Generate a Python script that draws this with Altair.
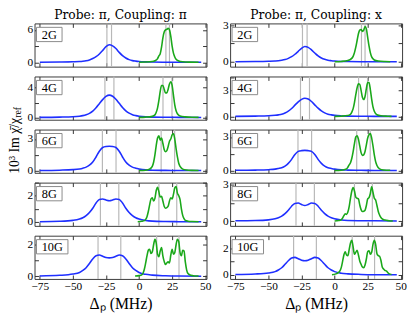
import altair as alt
import pandas as pd

SERIF = "Liberation Serif"
TSERIF = "DejaVu Serif"
BLUE = "#1f2fff"
GREEN = "#1aa81a"
GRAY = "#b8b8b8"

FIELDS = ["2G", "4G", "6G", "8G", "10G"]
COL_TITLES = ["Probe: π, Coupling: π", "Probe: π, Coupling: x"]
X_TICKS = [-75, -50, -25, 0, 25, 50]
X_DOMAIN = [-79, 51]

# marker (gray) line positions, MHz
MARKERS = [
    [-24.3, -20.8, 20.3, 23.0],
    [-25.8, -19.0, 18.1, 24.9],
    [-27.7, -17.4, 16.7, 26.9],
    [-29.2, -15.3, 15.0, 28.5],
    [-31.0, -13.8, 13.3, 30.2],
]

BLUE_X = [-75, -60, -50, -45, -42.5, -40, -37.5, -35, -32.5, -30, -27.5, -25, -22.5,
          -20, -17.5, -15, -12.5, -10, -7.5, -5, -2.5, 0, 5, 10, 20, 30, 47]

BLUE_LEFT = [
    [0.02, 0.05, 0.1, 0.15, 0.21, 0.3, 0.45, 0.7, 1.05, 1.55, 2.2, 2.9, 3.25,
     3.05, 2.55, 1.85, 1.25, 0.8, 0.5, 0.32, 0.22, 0.15, 0.08, 0.05, 0.03, 0.02, 0.01],
    [0.02, 0.05, 0.1, 0.18, 0.25, 0.36, 0.55, 0.85, 1.3, 1.85, 2.4, 2.82, 3.0,
     2.85, 2.45, 1.9, 1.35, 0.9, 0.58, 0.37, 0.25, 0.17, 0.08, 0.05, 0.03, 0.02, 0.01],
    [0.02, 0.05, 0.1, 0.17, 0.24, 0.34, 0.52, 0.82, 1.3, 1.85, 2.2, 2.3, 2.32,
     2.3, 2.2, 1.85, 1.3, 0.82, 0.52, 0.34, 0.24, 0.17, 0.08, 0.05, 0.03, 0.02, 0.01],
    [0.02, 0.05, 0.12, 0.22, 0.32, 0.48, 0.72, 1.05, 1.45, 1.72, 1.75, 1.67, 1.62,
     1.67, 1.75, 1.72, 1.45, 1.05, 0.72, 0.48, 0.32, 0.22, 0.11, 0.06, 0.03, 0.02, 0.01],
    [0.03, 0.07, 0.15, 0.25, 0.38, 0.55, 0.82, 1.1, 1.3, 1.35, 1.27, 1.19, 1.17,
     1.19, 1.27, 1.35, 1.3, 1.1, 0.82, 0.55, 0.38, 0.25, 0.13, 0.08, 0.04, 0.02, 0.01],
]

BLUE_RIGHT = [
    [0.01, 0.02, 0.04, 0.06, 0.08, 0.12, 0.18, 0.28, 0.42, 0.62, 0.86, 1.1, 1.25,
     1.18, 0.98, 0.72, 0.48, 0.31, 0.2, 0.13, 0.09, 0.06, 0.03, 0.02, 0.01, 0.01, 0.0],
    [0.01, 0.035, 0.07, 0.13, 0.18, 0.25, 0.39, 0.6, 0.91, 1.3, 1.68, 1.97, 2.1,
     2.0, 1.72, 1.33, 0.95, 0.63, 0.41, 0.26, 0.18, 0.12, 0.06, 0.035, 0.02, 0.01, 0.01],
    [0.02, 0.04, 0.08, 0.13, 0.19, 0.26, 0.4, 0.64, 1.0, 1.44, 1.71, 1.78, 1.8,
     1.78, 1.71, 1.44, 1.0, 0.64, 0.4, 0.26, 0.19, 0.13, 0.06, 0.04, 0.02, 0.01, 0.01],
    [0.02, 0.04, 0.1, 0.19, 0.28, 0.41, 0.62, 0.9, 1.24, 1.47, 1.5, 1.38, 1.29,
     1.38, 1.5, 1.47, 1.24, 0.9, 0.62, 0.41, 0.28, 0.19, 0.09, 0.05, 0.03, 0.02, 0.01],
    [0.03, 0.07, 0.15, 0.25, 0.37, 0.54, 0.8, 1.07, 1.27, 1.32, 1.22, 1.11, 1.07,
     1.11, 1.22, 1.32, 1.27, 1.07, 0.8, 0.54, 0.37, 0.25, 0.13, 0.08, 0.04, 0.02, 0.01],
]

GREEN_LEFT_X = [
    [0, 5, 10, 12, 14, 15, 16, 17, 18, 19, 20, 21, 22, 23, 24, 25, 26, 27, 28, 30, 33, 38, 45],
    [0, 5, 10, 12, 13, 14, 15, 16, 17, 18, 19, 20, 21, 22, 23, 24, 25, 26, 27, 28, 29, 31, 35, 40, 45],
    [0, 5, 8, 10, 11, 12, 13, 14, 15, 16, 17, 18, 19, 20, 21, 22, 23, 24, 25, 26, 27, 28, 29, 30,
     31, 33, 36, 40, 45],
    [-1, 2, 4, 5, 6, 7, 8, 9, 10, 11, 12, 13, 14, 15, 16, 17, 18, 19, 20, 21, 22, 23, 24, 25, 26,
     27, 28, 29, 30, 31, 32, 33, 34, 35, 37, 40, 45],
    [-3, 0, 2, 3, 4, 5, 6, 7, 8, 9, 10, 11, 12, 13, 14, 15, 16, 17, 18, 19, 20, 21, 22, 23, 24,
     25, 26, 27, 28, 29, 30, 31, 32, 33, 34, 35, 36, 37, 39, 42, 45],
]
GREEN_LEFT_Y = [
    [0.02, 0.05, 0.15, 0.3, 0.7, 1.2, 1.6, 2.8, 4.5, 5.6, 6.0, 6.1, 6.3, 6.0, 4.8, 3.0, 1.7,
     1.0, 0.55, 0.25, 0.1, 0.04, 0.02],
    [0.02, 0.05, 0.15, 0.35, 0.7, 1.3, 2.3, 3.5, 4.3, 4.3, 3.8, 3.3, 3.3, 3.8, 4.5, 4.8, 4.3,
     3.0, 1.7, 0.9, 0.5, 0.2, 0.08, 0.03, 0.02],
    [0.02, 0.05, 0.15, 0.4, 0.8, 1.5, 2.4, 3.1, 3.3, 2.9, 3.1, 2.6, 2.0, 1.8, 1.9, 2.3, 2.8,
     3.0, 3.4, 3.5, 3.0, 2.1, 1.3, 0.7, 0.4, 0.15, 0.06, 0.03, 0.02],
    [0.02, 0.05, 0.1, 0.2, 0.4, 0.8, 1.3, 1.75, 1.85, 1.6, 1.8, 2.4, 2.65, 2.3, 1.9, 1.95, 1.6,
     1.2, 1.05, 1.1, 1.2, 1.6, 1.85, 1.75, 2.1, 2.6, 2.7, 2.2, 2.0, 1.7, 1.0, 0.5, 0.25, 0.12,
     0.06, 0.03, 0.02],
    [0.02, 0.05, 0.1, 0.2, 0.45, 0.85, 1.3, 1.65, 1.72, 1.45, 1.55, 2.0, 2.35, 2.1, 1.4, 1.25,
     1.6, 1.82, 1.3, 0.95, 0.75, 0.85, 0.92, 0.85, 1.35, 1.72, 1.4, 1.5, 2.0, 2.35, 2.2, 1.5,
     1.3, 1.65, 1.6, 0.9, 0.4, 0.18, 0.07, 0.03, 0.02],
]

GREEN_RIGHT_X = [
    [0, 5, 10, 12, 14, 15, 16, 17, 18, 19, 20, 21, 22, 23, 24, 25, 26, 27, 28, 30, 33, 38, 42],
    [0, 5, 10, 12, 13, 14, 15, 16, 17, 18, 19, 20, 21, 22, 23, 24, 25, 26, 27, 28, 29, 30, 32,
     35, 40, 43],
    [0, 5, 9, 10, 11, 12, 13, 14, 15, 16, 17, 18, 19, 20, 21, 22, 23, 24, 25, 26, 27, 28, 29, 30,
     31, 32, 34, 37, 42],
    [0, 3, 5, 6, 7, 8, 9, 10, 11, 12, 13, 14, 15, 16, 17, 18, 19, 20, 21, 22, 23, 24, 25, 26, 27,
     28, 29, 30, 31, 32, 33, 34, 35, 36, 38, 41, 44],
    [-2, 1, 3, 4, 5, 6, 7, 8, 9, 10, 11, 12, 13, 14, 15, 16, 17, 18, 19, 20, 21, 22, 23, 24, 25,
     26, 27, 28, 29, 30, 31, 32, 33, 34, 35, 36, 37, 38, 39, 40, 41, 43],
]
GREEN_RIGHT_Y = [
    [0.01, 0.03, 0.1, 0.2, 0.45, 0.75, 1.2, 1.75, 2.3, 2.6, 2.65, 2.5, 2.6, 2.9, 2.7, 2.0, 1.3,
     0.75, 0.4, 0.15, 0.06, 0.02, 0.01],
    [0.01, 0.03, 0.1, 0.25, 0.5, 0.9, 1.6, 2.5, 3.3, 3.75, 3.7, 3.0, 2.2, 1.95, 2.3, 3.2, 3.9,
     3.9, 3.1, 2.0, 1.1, 0.6, 0.2, 0.08, 0.03, 0.01],
    [0.01, 0.03, 0.15, 0.3, 0.5, 0.7, 1.1, 1.7, 2.4, 3.0, 3.1, 2.8, 2.2, 1.6, 1.35, 1.4, 1.7,
     2.3, 2.9, 3.2, 3.3, 2.9, 2.2, 1.4, 0.8, 0.45, 0.15, 0.05, 0.02],
    [0.01, 0.04, 0.1, 0.25, 0.45, 0.6, 0.55, 0.75, 1.2, 1.9, 2.5, 2.8, 2.5, 2.0, 1.9, 1.85, 1.35,
     0.95, 0.8, 0.82, 0.9, 1.3, 1.85, 1.95, 2.3, 2.85, 2.4, 1.9, 1.75, 1.3, 0.8, 0.5, 0.3, 0.18,
     0.08, 0.03, 0.01],
    [0.02, 0.08, 0.2, 0.3, 0.55, 1.0, 1.5, 1.75, 1.5, 1.45, 1.9, 2.4, 2.6, 2.1, 1.55, 1.7, 1.85,
     1.5, 1.05, 0.8, 0.6, 0.55, 0.75, 1.2, 1.75, 1.82, 1.55, 1.7, 2.3, 2.6, 2.3, 1.6, 1.45, 1.4,
     1.1, 0.6, 0.45, 0.35, 0.3, 0.2, 0.1, 0.04],
]

Y_DOMAIN = [
    [[-0.8, 7.2], [-0.3, 5.5], [-0.2, 3.9], [-0.3, 3.0], [-0.16, 2.57]],
    [[-0.4, 3.15], [-0.38, 4.6], [-0.2, 3.66], [-0.4, 3.2], [-0.3, 2.95]],
]
Y_TICKS = [
    [[0, 3, 6], [0, 2, 4], [0, 1.5, 3], [0, 1, 2, 3], [0, 1, 2]],
    [[0, 1.5, 3], [0, 1.5, 3, 4.5], [0, 1.5, 3], [0, 1.5, 3], [0, 1, 2]],
]
Y_LABELS = [
    [[0, 6], [0, 4], [0, 3], [0, 2], [0, 2]],
    [[0, 3], [0, 3], [0, 3], [0, 3], [0, 2]],
]

W, H = 175, 44
ONE = pd.DataFrame({"a": [0]})


def panel(col, i):
    xs = alt.Scale(domain=X_DOMAIN, nice=False, zero=False)
    ys = alt.Scale(domain=Y_DOMAIN[col][i], nice=False, zero=False)
    bottom = i == 4
    xaxis_kw = dict(orient="bottom", values=X_TICKS, labels=bottom, grid=False,
                    domain=False, tickSize=4, offset=-4, labelPadding=2,
                    labelFont=SERIF, labelFontSize=11.5, labelColor="black",
                    tickColor="#333")
    if bottom:
        xaxis_kw.update(title="Δₚ (MHz)", titleFont=SERIF, titleFontSize=16,
                        titleFontWeight="normal", titleColor="black", titlePadding=4)
    else:
        xaxis_kw.update(title=None)
    xaxis = alt.Axis(**xaxis_kw)
    labels = Y_LABELS[col][i]
    yaxis = alt.Axis(orient="left", values=Y_TICKS[col][i], grid=False, domain=False,
                     tickSize=4, offset=-4, labelPadding=2, title=None,
                     labelExpr=f"indexof({labels}, datum.value) >= 0 ? datum.label : ''",
                     labelFont=SERIF, labelFontSize=11.5, labelColor="black",
                     tickColor="#333")
    xtop = alt.Axis(orient="top", values=X_TICKS, labels=False, grid=False, domain=False,
                    tickSize=4, offset=-4, title=None, tickColor="#333")
    yright = alt.Axis(orient="right", values=Y_TICKS[col][i], labels=False, grid=False,
                      domain=False, tickSize=4, offset=-4, title=None, tickColor="#333")

    mdf = pd.DataFrame({"x": MARKERS[i]})
    bdf = pd.DataFrame({"x": BLUE_X, "y": (BLUE_LEFT if col == 0 else BLUE_RIGHT)[i]})
    gx = (GREEN_LEFT_X if col == 0 else GREEN_RIGHT_X)[i]
    gy = (GREEN_LEFT_Y if col == 0 else GREEN_RIGHT_Y)[i]
    gdf = pd.DataFrame({"x": gx, "y": gy})

    rules = alt.Chart(mdf).mark_rule(color=GRAY, strokeWidth=1.2).encode(
        x=alt.X("x:Q", scale=xs, axis=None))
    blue = alt.Chart(bdf).mark_line(color=BLUE, strokeWidth=1.6, interpolate="monotone").encode(
        x=alt.X("x:Q", scale=xs, axis=xaxis), y=alt.Y("y:Q", scale=ys, axis=yaxis))
    green = alt.Chart(gdf).mark_line(color=GREEN, strokeWidth=1.6, interpolate="monotone").encode(
        x=alt.X("x:Q", scale=xs, axis=None), y=alt.Y("y:Q", scale=ys, axis=None))
    mirror = alt.Chart(bdf).mark_line(opacity=0).encode(
        x=alt.X("x:Q", scale=xs, axis=xtop), y=alt.Y("y:Q", scale=ys, axis=yright))
    bw = 26 if len(FIELDS[i]) == 2 else 32
    box = alt.Chart(ONE).mark_rect(fill="white", stroke="#8a8a8a", strokeWidth=1).encode(
        x=alt.value(2), x2=alt.value(2 + bw), y=alt.value(4), y2=alt.value(18.5))
    lab = alt.Chart(ONE).mark_text(font=SERIF, fontSize=12.5, color="black",
                                   align="center", baseline="middle").encode(
        x=alt.value(2 + bw / 2), y=alt.value(11.5), text=alt.value(FIELDS[i]))
    layers = [rules, blue, green, mirror, box, lab]
    if i == 0:
        ttl = alt.Chart(ONE).mark_text(font=TSERIF, fontSize=12.5, color="black",
                                       align="center", baseline="alphabetic").encode(
            x=alt.value(W / 2), y=alt.value(-5), text=alt.value(COL_TITLES[col]))
        layers.append(ttl)
    if col == 0 and i == 2:
        ymain = alt.Chart(ONE).mark_text(font=SERIF, fontSize=14, color="black", angle=270,
                                         align="right", baseline="middle").encode(
            x=alt.value(-20), y=alt.value(-12), text=alt.value("10³ Im χ̄/χ"))
        ysub = alt.Chart(ONE).mark_text(font=SERIF, fontSize=10, color="black", angle=270,
                                        align="left", baseline="middle", dy=3.5).encode(
            x=alt.value(-20), y=alt.value(-12), text=alt.value("ref"))
        layers += [ymain, ysub]
    return alt.layer(*layers).resolve_axis(x="independent", y="independent").properties(
        width=W, height=H)


panels = [panel(c, i) for i in range(5) for c in range(2)]
chart = alt.concat(*panels, columns=2, spacing={"row": 10, "column": 24},
                   bounds="flush").properties(
    padding={"left": -1, "top": -3, "right": 0, "bottom": 0}
).configure_view(stroke="#3a3a3a", strokeWidth=1)

chart.save("out.html", embed_options={"renderer": "svg", "actions": False})
